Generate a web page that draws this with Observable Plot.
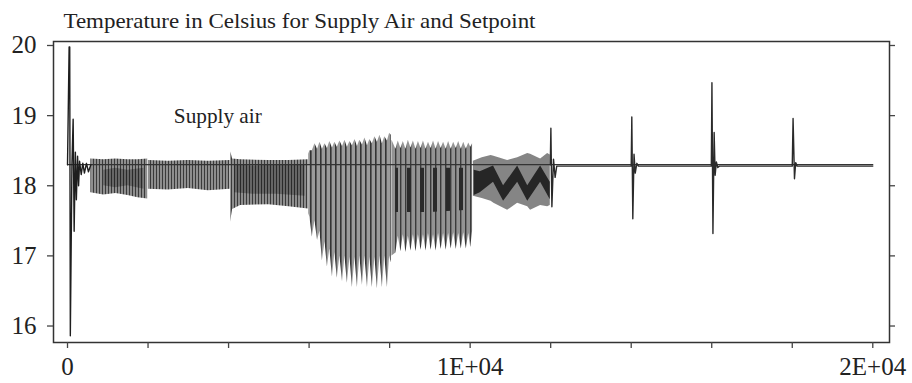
<!DOCTYPE html>
<html>
<head>
<meta charset="utf-8">
<script src="https://cdn.jsdelivr.net/npm/d3@7"></script>
<script src="https://cdn.jsdelivr.net/npm/@observablehq/plot@0.6"></script>
<style>
  html, body { margin: 0; padding: 0; background: #fff; }
  #chart { width: 912px; height: 383px; }
</style>
</head>
<body>
<div id="chart"></div>
<script>
// ---------- text ----------
const chartTitle = "Temperature in Celsius for Supply Air and Setpoint";
const seriesLabel = "Supply air";

// ---------- ticks ----------
const xTicks = [0, 2000, 4000, 6000, 8000, 10000, 12000, 14000, 16000, 18000, 20000];
const xTickLabels = ["0", "", "", "", "", "1E+04", "", "", "", "", "2E+04"];
const yTicks = [16, 17, 18, 19, 20];
const yTickLabels = ["16", "17", "18", "19", "20"];

// ---------- setpoint ----------
const setT = [0, 20000];
const setV = [18.3, 18.3];

// ---------- supply air: discrete trace (start transient) ----------
const startT = [0, 40, 55, 70, 110, 140, 165, 195, 220, 250, 275, 300, 340, 380, 420, 470, 520, 580];
const startV = [18.3, 19.98, 19.98, 15.86, 18.3, 18.95, 17.35, 18.48, 17.8, 18.42, 18.0, 18.35, 18.16, 18.32, 18.18, 18.32, 18.2, 18.3];

// ---------- supply air: discrete trace (after 12000, spikes) ----------
const tailT = [11990, 12005, 12030, 12070, 12110, 12150, 14000, 14015, 14040, 14070, 14100, 14140, 14180, 15990, 16005, 16030, 16060, 16085, 16115, 16150, 16190, 18000, 18020, 18055, 18085, 18120, 20000];
const tailV = [18.3, 18.82, 17.7, 18.38, 18.12, 18.28, 18.28, 18.98, 17.53, 18.45, 18.18, 18.32, 18.28, 18.28, 19.47, 17.32, 18.76, 18.15, 18.34, 18.26, 18.28, 18.28, 18.96, 18.1, 18.33, 18.28, 18.28];

// ---------- supply air: oscillation envelopes (upper / lower) ----------
const seg1T  = [580, 900, 1200, 1500, 1750, 1990];
const seg1Hi = [18.38, 18.37, 18.38, 18.37, 18.37, 18.38];
const seg1Lo = [17.90, 17.87, 17.89, 17.86, 17.83, 17.81];

const seg2T  = [2010, 2500, 3000, 3500, 4040];
const seg2Hi = [18.36, 18.35, 18.36, 18.35, 18.36];
const seg2Lo = [17.95, 17.94, 17.96, 17.93, 17.95];

const seg3T  = [4050, 4070, 4100, 4300, 5000, 5500, 5980];
const seg3Hi = [18.48, 18.45, 18.38, 18.37, 18.36, 18.36, 18.37];
const seg3Lo = [17.48, 17.55, 17.66, 17.72, 17.73, 17.70, 17.67];

// large-amplitude section: alternating trough / peak turning points
const seg4T  = [5990, 6020, 6080, 6145, 6210, 6270, 6330, 6395, 6455, 6515, 6580, 6640, 6700, 6765, 6830, 6890,
                6950, 7015, 7075, 7140, 7200, 7260, 7325, 7385, 7450, 7510, 7570, 7635, 7695, 7760, 7820, 7880, 7945, 8000, 8040];
const seg4Hi = [18.45, 18.50, 18.50, 18.60, 18.52, 18.62, 18.52, 18.60, 18.53, 18.63, 18.54, 18.62, 18.55, 18.64, 18.56, 18.65,
                18.55, 18.63, 18.57, 18.66, 18.56, 18.65, 18.58, 18.68, 18.57, 18.66, 18.60, 18.70, 18.62, 18.72, 18.60, 18.70, 18.64, 18.75, 18.72];
const seg4Lo = [17.60, 17.55, 17.27, 17.50, 17.22, 17.35, 16.93, 17.20, 16.84, 17.10, 16.70, 17.05, 16.68, 17.00, 16.63, 17.00,
                16.61, 16.98, 16.55, 16.98, 16.55, 17.00, 16.58, 17.00, 16.55, 16.98, 16.55, 16.98, 16.53, 17.00, 16.55, 17.00, 16.55, 17.00, 16.90];

const seg5T  = [8060, 8155, 8215, 8280, 8340, 8405, 8465, 8530, 8590, 8655, 8715, 8780, 8840, 8905, 8965, 9030, 9090,
                9155, 9215, 9280, 9340, 9405, 9465, 9530, 9590, 9655, 9715, 9780, 9840, 9905, 9965, 10015, 10060];
const seg5Hi = [18.65, 18.52, 18.64, 18.53, 18.63, 18.52, 18.65, 18.54, 18.64, 18.52, 18.63, 18.53, 18.64, 18.52, 18.62, 18.53, 18.64,
                18.52, 18.63, 18.53, 18.62, 18.52, 18.63, 18.52, 18.62, 18.53, 18.63, 18.52, 18.62, 18.52, 18.61, 18.55, 18.60];
const seg5Lo = [17.00, 17.04, 17.28, 17.06, 17.30, 17.05, 17.28, 17.07, 17.30, 17.06, 17.30, 17.08, 17.30, 17.07, 17.32, 17.08, 17.30,
                17.07, 17.32, 17.09, 17.32, 17.08, 17.32, 17.10, 17.33, 17.09, 17.32, 17.10, 17.33, 17.10, 17.32, 17.12, 17.35];

const seg6T  = [10080, 10300, 10520, 10590, 10930, 11180, 11430, 11500, 11750, 11925, 11990];
const seg6Hi = [18.35, 18.40, 18.43, 18.42, 18.36, 18.40, 18.46, 18.45, 18.38, 18.46, 18.44];
const seg6Lo = [17.85, 17.82, 17.78, 17.75, 17.65, 17.75, 17.70, 17.65, 17.72, 17.70, 17.72];

// darker cores inside the bands
const core1T  = [900, 1200, 1500, 1900];
const core1Hi = [18.22, 18.25, 18.22, 18.25];
const core1Lo = [18.00, 17.97, 18.00, 17.95];

const core3T  = [4150, 4600, 5200, 5900];
const core3Hi = [18.30, 18.28, 18.30, 18.30];
const core3Lo = [17.90, 17.88, 17.88, 17.85];

const core5T  = [8150, 9000, 10000];
const core5Hi = [18.25, 18.25, 18.25];
const core5Lo = [17.62, 17.62, 17.65];

// beating zig-zag (dark) in last oscillating section
const zigT  = [10100, 10250, 10580, 10830, 11180, 11430, 11750, 11990];
const zigHi = [18.22, 18.20, 18.28, 18.00, 18.28, 18.00, 18.28, 18.05];
const zigLo = [17.86, 17.90, 18.05, 17.78, 18.05, 17.78, 18.05, 17.80];

// ---------- build tables ----------
const rows = (T, A, B) => T.map((t, i) => ({t, hi: A[i], lo: B[i]}));
const pts = (T, V) => T.map((t, i) => ({t, v: V[i]}));
const xLabel = new Map(xTicks.map((d, i) => [d, xTickLabels[i]]));
const yLabel = new Map(yTicks.map((d, i) => [d, yTickLabels[i]]));

const band = (T, A, B, fill) => Plot.areaY(rows(T, A, B), {x: "t", y1: "lo", y2: "hi", fill, curve: "linear"});

const font = "'Liberation Serif', 'Times New Roman', serif";

const svg = Plot.plot({
  width: 912,
  height: 383,
  marginLeft: 53,
  marginRight: 23,
  marginTop: 41,
  marginBottom: 41,
  style: {fontFamily: font, background: "#fff", color: "#222"},
  x: {domain: [-348, 20415]},
  y: {domain: [15.765, 20.057]},
  marks: [
    band(seg1T, seg1Hi, seg1Lo, "url(#stA)"),
    band(seg2T, seg2Hi, seg2Lo, "url(#stA)"),
    band(seg3T, seg3Hi, seg3Lo, "url(#stA)"),
    band(seg4T, seg4Hi, seg4Lo, "url(#stB)"),
    band(seg5T, seg5Hi, seg5Lo, "url(#stC)"),
    band(seg6T, seg6Hi, seg6Lo, "#858585"),
    band(core1T, core1Hi, core1Lo, "url(#core)"),
    band(core3T, core3Hi, core3Lo, "url(#core)"),
    band(core5T, core5Hi, core5Lo, "url(#blob)"),
    band(zigT, zigHi, zigLo, "#262626"),
    Plot.line(pts(setT, setV), {x: "t", y: "v", stroke: "#333", strokeWidth: 1.2}),
    Plot.line(pts(startT, startV), {x: "t", y: "v", stroke: "#1e1e1e", strokeWidth: 1.4}),
    Plot.line(pts(tailT, tailV), {x: "t", y: "v", stroke: "#2a2a2a", strokeWidth: 1.4}),
    Plot.text([seriesLabel], {x: 2640, y: 19.0, text: d => d, textAnchor: "start", fontSize: 22, fill: "#222"}),
    Plot.text([chartTitle], {frameAnchor: "top-left", dx: 10, dy: -28, text: d => d, textAnchor: "start", fontSize: 21, fill: "#222"}),
    Plot.frame({stroke: "#333", strokeWidth: 1.5}),
    Plot.axisX({ticks: xTicks, tickSize: 6, tickPadding: 9, tickFormat: d => xLabel.get(d), fontSize: 25, stroke: "#444", strokeWidth: 1.3, label: null}),
    Plot.axisY({ticks: yTicks, anchor: "left", tickSize: 6, tickPadding: 11, tickFormat: d => yLabel.get(d), fontSize: 25, stroke: "#444", strokeWidth: 1.3, label: null}),
    Plot.axisY({ticks: yTicks, anchor: "right", tickSize: 5, tickFormat: () => "", stroke: "#444", strokeWidth: 1.3, label: null})
  ]
});

svg.insertAdjacentHTML("afterbegin", `
<defs>
  <pattern id="stA" width="3" height="8" patternUnits="userSpaceOnUse">
    <rect width="3" height="8" fill="#8e8e8e"/><rect width="1" height="8" fill="#3a3a3a"/>
  </pattern>
  <pattern id="stB" width="5" height="8" patternUnits="userSpaceOnUse">
    <rect width="5" height="8" fill="#9a9a9a"/><rect width="1.6" height="8" fill="#333"/>
  </pattern>
  <pattern id="stC" width="5" height="8" patternUnits="userSpaceOnUse">
    <rect width="5" height="8" fill="#939393"/><rect width="1.4" height="8" fill="#3a3a3a"/>
  </pattern>
  <pattern id="core" width="3" height="8" patternUnits="userSpaceOnUse">
    <rect width="3" height="8" fill="#666"/><rect width="1" height="8" fill="#2a2a2a"/>
  </pattern>
  <pattern id="blob" width="13" height="8" patternUnits="userSpaceOnUse">
    <rect width="13" height="8" fill="none"/><rect x="4" width="4" height="8" fill="#2a2a2a"/>
  </pattern>
</defs>`);

// fit text widths to the reference
for (const t of svg.querySelectorAll("text")) {
  if (t.textContent === chartTitle) { t.setAttribute("textLength", 472); t.setAttribute("lengthAdjust", "spacingAndGlyphs"); }
  if (t.textContent === seriesLabel) { t.setAttribute("textLength", 88); t.setAttribute("lengthAdjust", "spacingAndGlyphs"); }
}
document.getElementById("chart").appendChild(svg);
</script>
</body>
</html>
